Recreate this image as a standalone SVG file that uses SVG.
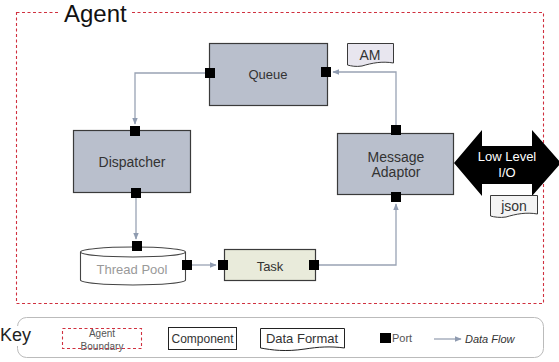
<svg xmlns="http://www.w3.org/2000/svg" width="559" height="362" viewBox="0 0 559 362">
<defs>
<style>
text{font-family:"Liberation Sans",Arial,sans-serif;}
.box{fill:#b9bfcc;stroke:#3a3a3a;stroke-width:1.2;}
.lbl{font-size:13px;fill:#333;text-anchor:middle;}
.big{font-size:14px;}
.port{fill:#000;}
.conn{fill:none;stroke:#99a3b4;stroke-width:1.3;}
.bound{fill:none;stroke:#d0303f;stroke-width:1.1;stroke-dasharray:3,2.5;}
.fmt{fill:#e8e6ef;stroke:#3a3a3a;stroke-width:1;}
</style>
<marker id="ah" viewBox="0 0 10 10" refX="9" refY="5" markerWidth="7" markerHeight="7" orient="auto" markerUnits="userSpaceOnUse">
<path d="M0,1 L10,5 L0,9 z" fill="#8f9bb0"/>
</marker>
</defs>
<rect width="559" height="362" fill="#fff"/>

<g id="agent-boundary">
<rect class="bound" x="16.5" y="12.5" width="527" height="291"/>
<rect x="60" y="2" width="72" height="20" fill="#fff"/>
<text x="64" y="22" font-size="24" fill="#111">Agent</text>
</g>

<g id="connectors">
<path class="conn" d="M205,73 H135 V124" marker-end="url(#ah)"/>
<path class="conn" d="M136,198 V239" marker-end="url(#ah)"/>
<path class="conn" d="M191,265 H216" marker-end="url(#ah)"/>
<path class="conn" d="M319,265 H396 V204" marker-end="url(#ah)"/>
<path class="conn" d="M396,125 V72 H333" marker-end="url(#ah)"/>
</g>

<g id="queue">
<rect class="box" x="209.5" y="43.5" width="118" height="62"/>
<text class="lbl" x="268" y="79">Queue</text>
<rect class="port" x="205" y="68" width="10" height="10"/>
<rect class="port" x="321" y="67" width="10" height="10"/>
</g>

<g id="am">
<path class="fmt" d="M347.5,43.5 H393.5 V63 C382,61 372,63 362,66 C356,67 351,66 347.5,65 Z"/>
<text x="370" y="60" font-size="14" fill="#333" text-anchor="middle">AM</text>
</g>

<g id="dispatcher">
<rect class="box" x="73.5" y="130.5" width="117" height="62"/>
<text class="lbl big" x="132" y="167">Dispatcher</text>
<rect class="port" x="130" y="126" width="10" height="10"/>
<rect class="port" x="131" y="188" width="10" height="10"/>
</g>

<g id="message-adaptor">
<rect class="box" x="337.5" y="133.5" width="116" height="61"/>
<text class="lbl big" x="396" y="162">Message</text>
<text class="lbl big" x="396" y="177">Adaptor</text>
<rect class="port" x="391" y="125" width="10" height="10"/>
<rect class="port" x="391" y="192" width="10" height="10"/>
</g>

<g id="low-level-io">
<polygon points="454,163 482,130 482,146 532,146 532,130 561,163 532,196 532,184 482,184 482,196" fill="#000"/>
<text x="507" y="161" font-size="13" fill="#fff" text-anchor="middle">Low Level</text>
<text x="507" y="177" font-size="13" fill="#fff" text-anchor="middle">I/O</text>
</g>

<g id="json">
<path d="M490.5,195.5 H537.5 V214 C526,212 516,214 506,217 C500,218 494,217 490.5,216 Z" fill="#f4f4f4" stroke="#3a3a3a" stroke-width="1"/>
<text x="514" y="211" font-size="14" fill="#333" text-anchor="middle">json</text>
</g>

<g id="thread-pool">
<path d="M80.5,252 A52.5,5 0 0 1 185.5,252 V280 A52.5,5 0 0 1 80.5,280 Z" fill="#fff" stroke="#444" stroke-width="1.1"/>
<path d="M80.5,252 A52.5,5 0 0 0 185.5,252" fill="none" stroke="#444" stroke-width="1.1"/>
<text x="132" y="274" font-size="13" fill="#999" text-anchor="middle">Thread Pool</text>
<rect class="port" x="132" y="241" width="10" height="10"/>
<rect class="port" x="182" y="260" width="10" height="10"/>
</g>

<g id="task">
<rect x="224.5" y="249.5" width="91" height="31" fill="#e9ebdb" stroke="#3a3a3a" stroke-width="1.2"/>
<text class="lbl" x="270" y="271">Task</text>
<rect class="port" x="218" y="260" width="10" height="10"/>
<rect class="port" x="309" y="260" width="10" height="10"/>
</g>

<g id="key">
<rect x="17.5" y="317.5" width="526" height="40" rx="9" fill="#fff" stroke="#bbb" stroke-width="1"/>
<rect x="0" y="326" width="30" height="20" fill="#fff"/>
<text x="0" y="341" font-size="18" fill="#222">Key</text>
<rect class="bound" x="62.5" y="328.5" width="79" height="20"/>
<text x="102" y="337" font-size="10" fill="#555" text-anchor="middle">Agent</text>
<text x="102" y="350" font-size="10" fill="#555" text-anchor="middle">Boundary</text>
<rect x="168.5" y="327.5" width="68" height="22" fill="#fff" stroke="#222" stroke-width="1"/>
<text x="202.5" y="343" font-size="12" fill="#333" text-anchor="middle">Component</text>
<path d="M260.5,328.5 H344.5 V348 C330,346 318,347 305,349 C285,352 272,350 260.5,348 Z" fill="#fff" stroke="#222" stroke-width="1"/>
<text x="302" y="343" font-size="13" fill="#333" text-anchor="middle">Data Format</text>
<rect class="port" x="380" y="333" width="11" height="10"/>
<text x="392" y="342" font-size="11" fill="#555">Port</text>
<path class="conn" d="M434,339 H461" marker-end="url(#ah)"/>
<text x="465" y="343" font-size="11" font-style="italic" fill="#333">Data Flow</text>
</g>
</svg>
